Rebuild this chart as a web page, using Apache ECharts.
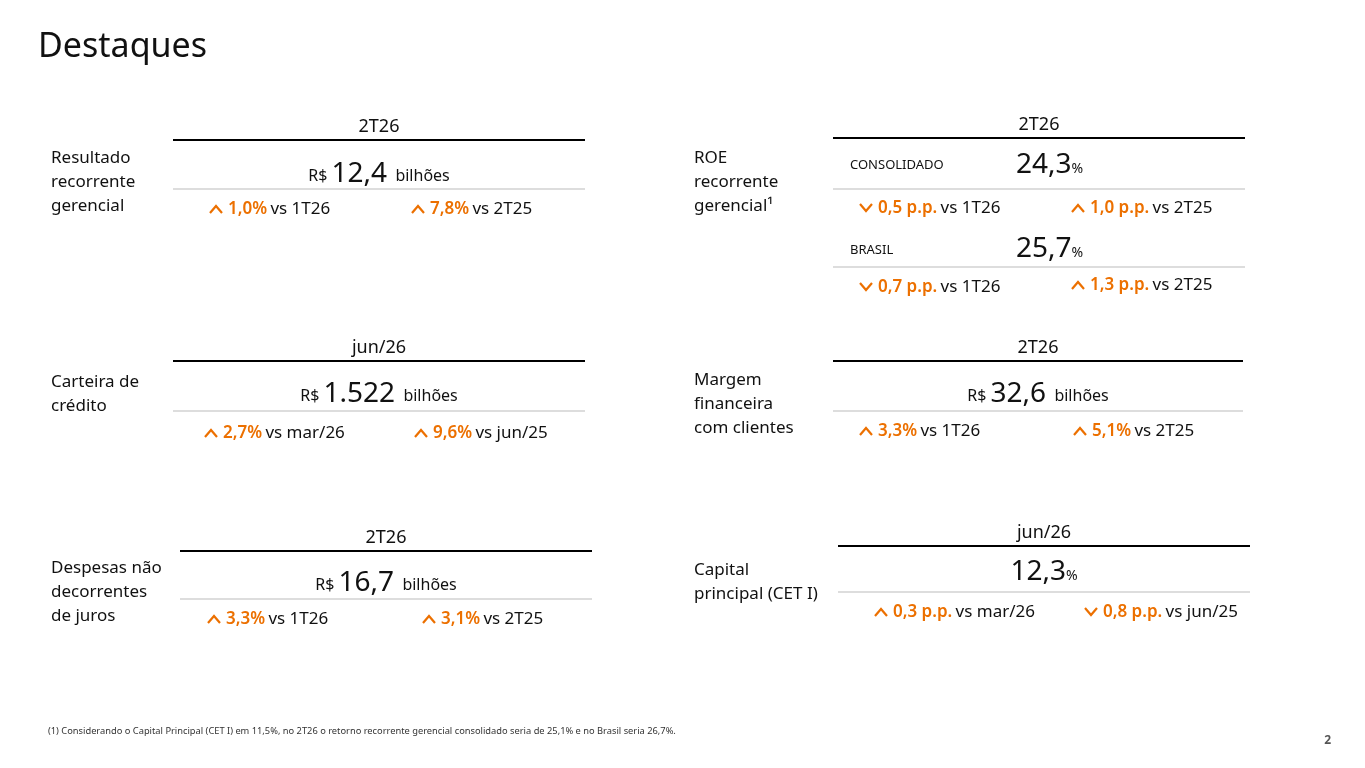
<!DOCTYPE html>
<html><head><meta charset="utf-8">
<script src="https://cdn.jsdelivr.net/npm/echarts@6/dist/echarts.min.js"></script>
<style>html,body{margin:0;background:#fff}#c{width:1365px;height:768px}</style>
</head><body><div id="c"></div>
<script>
// Data
const labels = ['Resultado\nrecorrente\ngerencial', 'ROE\nrecorrente\ngerencial¹', 'Carteira de\ncrédito',
  'Margem\nfinanceira\ncom clientes', 'Despesas não\ndecorrentes\nde juros', 'Capital\nprincipal (CET I)'];
const periods = ['2T26', '2T26', 'jun/26', '2T26', '2T26', 'jun/26'];
const values = ['12,4', '24,3', '1.522', '32,6', '16,7', '12,3'];
const prefixes = ['R$', '', 'R$', 'R$', 'R$', ''];
const units = ['bilhões', '%', 'bilhões', 'bilhões', 'bilhões', '%'];
// [up?, value, versus] pairs
const compsA = [[true, '1,0%', 'vs 1T26'], [false, '0,5 p.p.', 'vs 1T26'], [true, '2,7%', 'vs mar/26'],
  [true, '3,3%', 'vs 1T26'], [true, '3,3%', 'vs 1T26'], [true, '0,3 p.p.', 'vs mar/26']];
const compsB = [[true, '7,8%', 'vs 2T25'], [true, '1,0 p.p.', 'vs 2T25'], [true, '9,6%', 'vs jun/25'],
  [true, '5,1%', 'vs 2T25'], [true, '3,1%', 'vs 2T25'], [false, '0,8 p.p.', 'vs jun/25']];
const brasilValue = '25,7';
const brasilA = [false, '0,7 p.p.', 'vs 1T26'];
const brasilB = [true, '1,3 p.p.', 'vs 2T25'];
const footnote = '(1) Considerando o Capital Principal (CET I) em 11,5%, no 2T26 o retorno recorrente gerencial consolidado seria de 25,1% e no Brasil seria 26,7%.';

const OR = '#EC7000', INK = '#111', F = '"Noto Sans", sans-serif';
// layout: label x,y ; line x0,x1,y ; value y ; thin y ; comps y ; arrow xs
const lay = [
  {lx: 51, ly: 146, x0: 173, x1: 585, y: 140, vy: 174, ty: 189, cy: 209, ax: [216, 418], vx: null},
  {lx: 694, ly: 146, x0: 833, x1: 1245, y: 138, vy: 165, ty: 189, cy: 208, ax: [866, 1078], vx: 1016},
  {lx: 51, ly: 370, x0: 173, x1: 585, y: 361, vy: 394, ty: 411, cy: 433, ax: [211, 421], vx: null},
  {lx: 694, ly: 368, x0: 833, x1: 1243, y: 361, vy: 394, ty: 411, cy: 431, ax: [866, 1080], vx: null},
  {lx: 51, ly: 556, x0: 180, x1: 592, y: 551, vy: 583, ty: 599, cy: 619, ax: [214, 429], vx: null},
  {lx: 694, ly: 558, x0: 838, x1: 1250, y: 546, vy: 572, ty: 592, cy: 612, ax: [881, 1091], vx: null}
];

const g = [];
function chevron(x, y, up) {
  g.push({type: 'polyline', shape: {points: up ? [[x - 6, y + 4], [x, y - 3], [x + 6, y + 4]] : [[x - 6, y - 4], [x, y + 3], [x + 6, y - 4]]},
    style: {stroke: OR, lineWidth: 2.2, fill: null}});
}
function comp(c, x, y) {
  chevron(x, y, c[0]);
  g.push({type: 'text', x: x + 12, y: y, style: {text: '{o|' + c[1] + '} {k|' + c[2] + '}', verticalAlign: 'middle',
    rich: {o: {fill: OR, font: '600 17px ' + F}, k: {fill: INK, font: '17px ' + F}}}});
}
function valueText(pre, v, u, x, y, align) {
  const big = u === '%' ? '{v|' + v + '}{p|%}' : '{s|' + pre + ' }{v|' + v + '}{u|  ' + u + '}';
  g.push({type: 'text', x: x, y: y, style: {text: big, align: align, verticalAlign: 'middle',
    rich: {s: {fill: INK, font: '16px ' + F, padding: [5, 0, 0, 0]}, v: {fill: INK, font: '28px ' + F}, u: {fill: INK, font: '16px ' + F, padding: [5, 0, 0, 0]}, p: {fill: INK, font: '14px ' + F, padding: [8, 0, 0, 0]}}}});
}

g.push({type: 'text', x: 38, y: 47, style: {text: 'Destaques', font: '34px ' + F, fill: INK, verticalAlign: 'middle'}});
lay.forEach((L, i) => {
  g.push({type: 'text', x: L.lx, y: L.ly, style: {text: labels[i], font: '17px ' + F, fill: INK, lineHeight: 24}});
  g.push({type: 'text', x: (L.x0 + L.x1) / 2, y: L.y - 13, style: {text: periods[i], font: '18px ' + F, fill: INK, align: 'center', verticalAlign: 'middle'}});
  g.push({type: 'line', shape: {x1: L.x0, y1: L.y, x2: L.x1, y2: L.y}, style: {stroke: '#000', lineWidth: 2}});
  g.push({type: 'line', shape: {x1: L.x0, y1: L.ty, x2: L.x1, y2: L.ty}, style: {stroke: '#bbb', lineWidth: 1}});
  if (i === 1) {
    g.push({type: 'text', x: 850, y: L.vy, style: {text: 'CONSOLIDADO', font: '13px ' + F, fill: INK, verticalAlign: 'middle'}});
    g.push({type: 'text', x: 850, y: 250, style: {text: 'BRASIL', font: '13px ' + F, fill: INK, verticalAlign: 'middle'}});
    valueText('', values[i], units[i], L.vx, L.vy, 'left');
    valueText('', brasilValue, '%', L.vx, 249, 'left');
    g.push({type: 'line', shape: {x1: L.x0, y1: 267, x2: L.x1, y2: 267}, style: {stroke: '#bbb', lineWidth: 1}});
    comp(brasilA, L.ax[0], 287);
    comp(brasilB, L.ax[1], 285);
  } else {
    valueText(prefixes[i], values[i], units[i], (L.x0 + L.x1) / 2, L.vy, 'center');
  }
  comp(compsA[i], L.ax[0], L.cy);
  comp(compsB[i], L.ax[1], L.cy);
});
g.push({type: 'text', x: 48, y: 731, style: {text: footnote, font: '9.3px ' + F, fill: '#333', verticalAlign: 'middle'}});
g.push({type: 'text', x: 1331, y: 741, style: {text: '2', font: 'bold 12px ' + F, fill: '#555', align: 'right', verticalAlign: 'middle'}});

const chart = echarts.init(document.getElementById('c'));
chart.setOption({animation: false, graphic: {elements: g}});
</script></body></html>
